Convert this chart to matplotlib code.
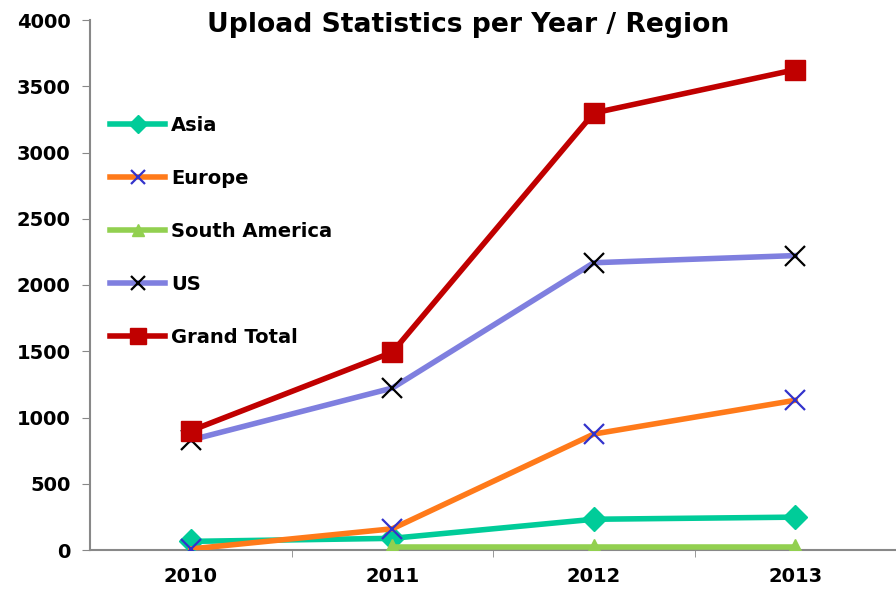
import matplotlib
matplotlib.use("Agg")
import matplotlib.pyplot as plt
import numpy as np

# 数据
years = ["2010", "2011", "2012", "2013"]
asia = [65, 88, 232, 248]
europe = [8, 160, 875, 1130]
south_america = [np.nan, 20, 20, 20]
us = [830, 1222, 2168, 2222]
grand_total = [900, 1492, 3298, 3625]

plt.rcParams['font.family'] = ['DejaVu Sans']
plt.rcParams['font.weight'] = 'bold'

fig = plt.figure(figsize=(8.96, 5.92), dpi=100)
ax = fig.add_axes([90 / 896, 42 / 592, 806 / 896, 530 / 592])
x = np.arange(len(years))
lw = 4.0

ax.plot(x, asia, color='#00CC99', lw=lw, marker='D', ms=12, mec='#00CC99', label='Asia', zorder=3)
ax.plot(x, europe, color='#FF7A1A', lw=lw, marker='x', ms=14, mew=1.6, mec='#3333CC', label='Europe', zorder=3)
ax.plot(x, south_america, color='#92D050', lw=lw, marker='^', ms=12, mec='#92D050', label='South America', zorder=3)
ax.plot(x, us, color='#7F7FDF', lw=lw, marker='x', ms=14, mew=1.6, mec='black', label='US', zorder=3)
ax.plot(x, grand_total, color='#C00000', lw=lw, marker='s', ms=15, mec='#C00000', label='Grand Total', zorder=4)

ax.set_xlim(-0.5, 3.5)
ax.set_ylim(0, 4000)
ax.set_yticks(np.arange(0, 4001, 500))
ax.set_xticks(x)
ax.set_xticklabels(years)
ax.set_xticks([0.5, 1.5, 2.5], minor=True)
ax.tick_params(axis='x', which='major', length=0, pad=12, labelsize=14)
ax.tick_params(axis='x', which='minor', length=5, direction='out', color='#888888')
ax.tick_params(axis='y', length=6, color='#888888', pad=8, labelsize=14)
for s in ['top', 'right']:
    ax.spines[s].set_visible(False)
for s in ['left', 'bottom']:
    ax.spines[s].set_color('#888888')
    ax.spines[s].set_linewidth(1.5)

fig.text(468 / 896, 1 - 32 / 592, "Upload Statistics per Year / Region",
         ha='center', va='baseline', fontsize=19.2, fontweight='bold')

ax.legend(loc='upper left', bbox_to_anchor=(20 / 806, 0.819), frameon=False,
          fontsize=14, handlelength=2.85, handletextpad=0.3, labelspacing=1.75,
          borderaxespad=0, borderpad=0, markerscale=0.75)

fig.savefig("out.png", dpi=100)
